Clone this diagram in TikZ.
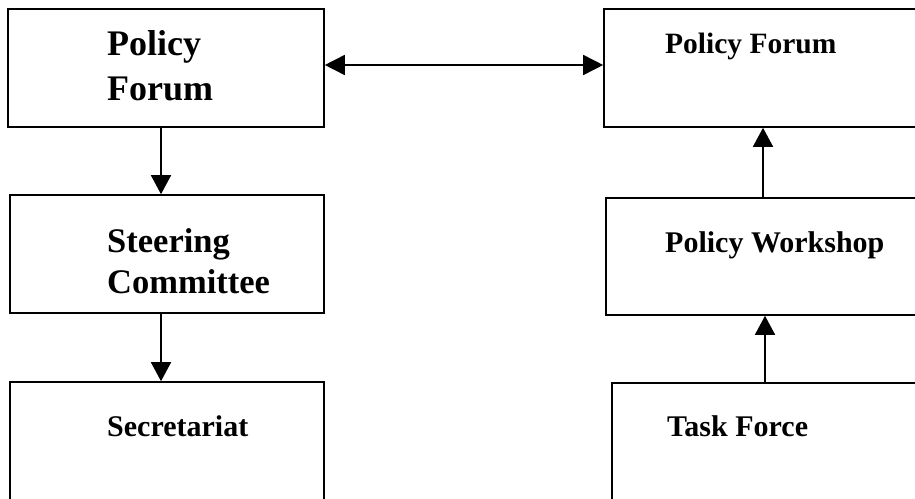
\documentclass[tikz,border=0pt]{standalone}
\usepackage{fontspec}
\setmainfont{Liberation Serif}
\usetikzlibrary{arrows.meta}

\tikzset{
	box/.style={draw,line width=1.6pt,inner sep=0pt},
	txt/.style={anchor=base west,inner sep=0pt,align=left},
	arr/.style={line width=1.6pt,-{Triangle[length=19pt,width=20pt]}},
	arrboth/.style={line width=1.6pt,{Triangle[length=20pt,width=20pt]}-{Triangle[length=20pt,width=20pt]}}
}

\begin{document}
\begin{tikzpicture}[x=1pt,y=-1pt]
	\clip (0,0) rectangle (915,498);		%page
	
	%BOXES
	\node[box,minimum width=316pt,minimum height=118pt] (forumL) at (166,68) {};		%left, top
	\node[box,minimum width=314pt,minimum height=118pt] (steer) at (167,254) {};		%left, middle
	\node[box,minimum width=314pt,minimum height=130pt] (secr) at (167,447) {};		%left, bottom
	\node[box,minimum width=318pt,minimum height=118pt] (forumR) at (763,68) {};		%right, top
	\node[box,minimum width=314pt,minimum height=117pt] (workshop) at (763,256.5) {};	%right, middle
	\node[box,minimum width=306pt,minimum height=130pt] (task) at (765,448) {};		%right, bottom
	
	%TEXT (base = last line)
	\node[txt,font=\fontsize{36}{45}\selectfont\bfseries] (forumLtxt) at (107,100) {Policy\\Forum};
	\node[txt,font=\fontsize{34.5}{41}\selectfont\bfseries] (steertxt) at (107,293) {Steering\\Committee};
	\node[txt,font=\fontsize{30}{36}\selectfont\bfseries] (secrtxt) at (107,436) {Secretariat};
	\node[txt,font=\fontsize{29.5}{36}\selectfont\bfseries] (forumRtxt) at (665,53) {Policy Forum};
	\node[txt,font=\fontsize{30}{36}\selectfont\bfseries] (workshoptxt) at (665,252) {Policy Workshop};
	\node[txt,font=\fontsize{30}{36}\selectfont\bfseries] (tasktxt) at (667,436) {Task Force};
	
	%ARROWS
	\draw[arr] ([xshift=-5pt]forumL.south) -- ([xshift=-5pt]forumL.south |- steer.north);	%forum to steering
	\draw[arr] ([xshift=-6pt]steer.south) -- ([xshift=-6pt]steer.south |- secr.north);		%steering to secretariat
	\draw[arr] (workshop.north) -- (workshop.north |- forumR.south);					%workshop to forum
	\draw[arr] (task.north) -- (task.north |- workshop.south);						%task force to workshop
	\draw[arrboth] ([yshift=3pt]forumL.east) -- ([yshift=3pt]forumR.west);			%forum to forum
\end{tikzpicture}
\end{document}
